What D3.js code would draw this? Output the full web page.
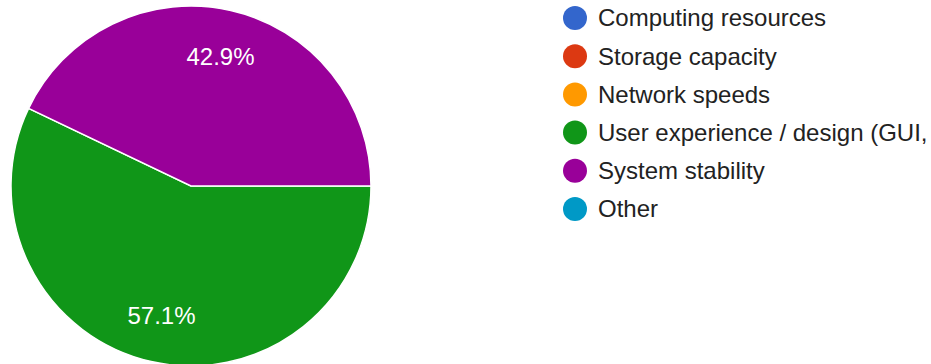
<!DOCTYPE html>
<html>
<head>
<meta charset="utf-8">
<script src="https://cdn.jsdelivr.net/npm/d3@7"></script>
<style>
  html, body { margin: 0; padding: 0; background: #fff; overflow: hidden; }
  svg { display: block; }
</style>
</head>
<body>
<svg id="chart" width="931" height="364"></svg>
<script>
// Response categories, shares (percent) and palette
const categories = [
  "Computing resources",
  "Storage capacity",
  "Network speeds",
  "User experience / design (GUI,",
  "System stability",
  "Other"
];
const shares = [0, 0, 0, 57.1, 42.9, 0];
const colors = ["#3366cc", "#dc3912", "#ff9900", "#109618", "#990099", "#0099c6"];

const svg = d3.select("#chart");
const font = "Arial, 'Liberation Sans', sans-serif";

const cx = 191, cy = 186, radius = 180;

const data = categories.map((c, i) => ({ name: c, value: shares[i], color: colors[i] }));

// Pie starts at 3 o'clock and runs clockwise
const pie = d3.pie()
  .value(d => d.value)
  .sort(null)
  .startAngle(Math.PI / 2)
  .endAngle(Math.PI / 2 + 2 * Math.PI);

const arcs = pie(data).filter(a => a.data.value > 0);

const arc = d3.arc().innerRadius(0).outerRadius(radius);
const labelArc = d3.arc().innerRadius(radius * 0.74).outerRadius(radius * 0.74);

const g = svg.append("g").attr("transform", `translate(${cx},${cy})`);

g.selectAll("path.slice")
  .data(arcs)
  .join("path")
  .attr("class", "slice")
  .attr("d", arc)
  .attr("fill", d => d.data.color)
  .attr("stroke", "#fff")
  .attr("stroke-width", 1.5);

g.selectAll("text.pct")
  .data(arcs)
  .join("text")
  .attr("class", "pct")
  .attr("transform", d => `translate(${labelArc.centroid(d)})`)
  .attr("text-anchor", "middle")
  .attr("dy", "0.35em")
  .attr("fill", "#fff")
  .attr("font-family", font)
  .attr("font-size", 24)
  .text(d => d.data.value.toFixed(1) + "%");

// Legend
const legendY = d3.scalePoint()
  .domain(categories)
  .range([18, 209]);

const legend = svg.append("g");
const items = legend.selectAll("g.item")
  .data(data)
  .join("g")
  .attr("class", "item")
  .attr("transform", d => `translate(575,${legendY(d.name)})`);

items.append("circle")
  .attr("r", 12)
  .attr("fill", d => d.color);

items.append("text")
  .attr("x", 23)
  .attr("dy", "0.35em")
  .attr("fill", "#222")
  .attr("font-family", font)
  .attr("font-size", 24)
  .text(d => d.name);
</script>
</body>
</html>
